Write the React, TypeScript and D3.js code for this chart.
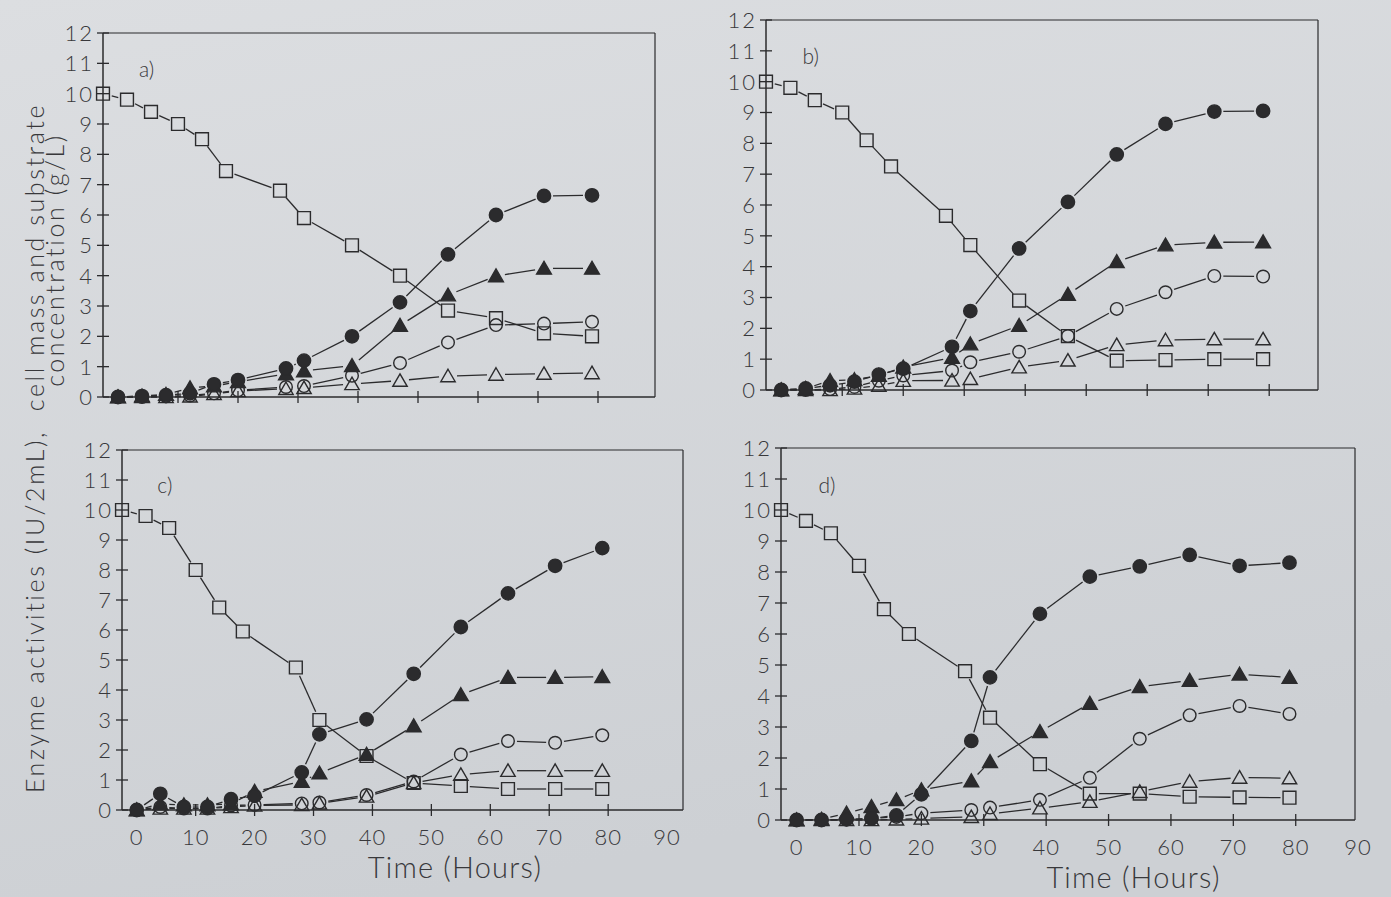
import React from "react";
import * as d3 from "d3";

// sampling times (hours)
const hours = [0, 4, 8, 12, 16, 20, 28, 31, 39, 47, 55, 63, 71, 79];
const substrateHours = [-2.5, 1.5, 5.5, 10, 14, 18, 27, 31, 39, 47, 55, 63, 71, 79];

const yTicks = d3.range(0, 13);
const xTickMarks = d3.range(0, 90, 10);
const xTickLabels = d3.range(0, 100, 10);

// panel a
const aSubstrate = [10, 9.8, 9.4, 9.0, 8.5, 7.45, 6.8, 5.9, 5.0, 4.0, 2.85, 2.6, 2.1, 2.0];
const aFilledCircle = [0, 0.03, 0.06, 0.12, 0.42, 0.56, 0.94, 1.2, 2.0, 3.12, 4.7, 6.0, 6.63, 6.65];
const aFilledTriangle = [0, 0.03, 0.08, 0.3, 0.36, 0.5, 0.76, 0.86, 1.03, 2.36, 3.36, 3.99, 4.24, 4.24];
const aOpenCircle = [0, 0, 0.02, 0.05, 0.12, 0.22, 0.33, 0.36, 0.7, 1.12, 1.8, 2.37, 2.42, 2.48];
const aOpenTriangle = [0, 0, 0, 0.02, 0.1, 0.2, 0.27, 0.3, 0.43, 0.54, 0.69, 0.74, 0.77, 0.79];

// panel b
const bSubstrate = [10, 9.8, 9.4, 9.0, 8.1, 7.25, 5.65, 4.7, 2.9, 1.75, 0.95, 0.97, 1.0, 1.0];
const bFilledCircle = [0, 0.05, 0.15, 0.27, 0.5, 0.69, 1.4, 2.56, 4.59, 6.1, 7.64, 8.63, 9.03, 9.05];
const bFilledTriangle = [0, 0.05, 0.3, 0.33, 0.47, 0.74, 1.05, 1.49, 2.09, 3.1, 4.16, 4.7, 4.79, 4.8];
const bOpenCircle = [0, 0, 0.03, 0.1, 0.3, 0.47, 0.63, 0.9, 1.24, 1.75, 2.63, 3.17, 3.7, 3.68];
const bOpenTriangle = [0, 0, 0, 0.05, 0.14, 0.3, 0.31, 0.36, 0.74, 0.96, 1.46, 1.62, 1.65, 1.65];

// panel c
const cSubstrate = [10, 9.8, 9.4, 8.0, 6.75, 5.95, 4.75, 3.0, 1.8, 0.9, 0.8, 0.7, 0.7, 0.7];
const cFilledCircle = [0, 0.54, 0.1, 0.1, 0.36, 0.47, 1.25, 2.52, 3.02, 4.54, 6.1, 7.22, 8.14, 8.73];
const cFilledTriangle = [0, 0.2, 0.17, 0.17, 0.2, 0.62, 0.95, 1.23, 1.85, 2.8, 3.84, 4.42, 4.42, 4.44];
const cOpenCircle = [0, 0.1, 0.05, 0.05, 0.15, 0.17, 0.22, 0.25, 0.5, 0.95, 1.85, 2.3, 2.24, 2.49];
const cOpenTriangle = [0, 0.05, 0.05, 0.05, 0.1, 0.15, 0.17, 0.22, 0.45, 0.9, 1.18, 1.31, 1.31, 1.31];

// panel d
const dSubstrate = [10, 9.65, 9.25, 8.2, 6.8, 6.0, 4.8, 3.3, 1.8, 0.85, 0.85, 0.75, 0.73, 0.72];
const dFilledCircle = [0, 0, 0.02, 0.05, 0.15, 0.83, 2.55, 4.6, 6.65, 7.85, 8.18, 8.55, 8.2, 8.3];
const dFilledTriangle = [0, 0.02, 0.22, 0.43, 0.65, 0.97, 1.26, 1.88, 2.85, 3.76, 4.3, 4.5, 4.7, 4.6];
const dOpenCircle = [0, 0, 0.02, 0.05, 0.1, 0.22, 0.32, 0.4, 0.65, 1.36, 2.62, 3.38, 3.68, 3.42];
const dOpenTriangle = [0, 0, 0, 0, 0.02, 0.05, 0.1, 0.2, 0.38, 0.59, 0.91, 1.24, 1.37, 1.35];

const INK = "#2b2b2d";
const TEXT = "#38383b";
const FONT = "Lato, 'Open Sans', 'DejaVu Sans', sans-serif";

type Kind = "square" | "filledCircle" | "filledTriangle" | "openCircle" | "openTriangle";

const symbolFor: Record<Kind, d3.SymbolType> = {
  square: d3.symbolSquare,
  filledCircle: d3.symbolCircle,
  filledTriangle: d3.symbolTriangle,
  openCircle: d3.symbolCircle,
  openTriangle: d3.symbolTriangle,
};
const sizeFor: Record<Kind, number> = {
  square: 165,
  filledCircle: 140,
  filledTriangle: 95,
  openCircle: 125,
  openTriangle: 90,
};

const panels = [
  { label: "a)", left: 103, right: 655, top: 33, bottom: 397, xMax: 89.5, xLabels: false,
    substrate: aSubstrate, fc: aFilledCircle, ft: aFilledTriangle, oc: aOpenCircle, ot: aOpenTriangle },
  { label: "b)", left: 766, right: 1318, top: 20, bottom: 390, xMax: 88, xLabels: false,
    substrate: bSubstrate, fc: bFilledCircle, ft: bFilledTriangle, oc: bOpenCircle, ot: bOpenTriangle },
  { label: "c)", left: 122, right: 683, top: 450, bottom: 810, xMax: 92.7, xLabels: true,
    substrate: cSubstrate, fc: cFilledCircle, ft: cFilledTriangle, oc: cOpenCircle, ot: cOpenTriangle },
  { label: "d)", left: 781, right: 1355, top: 448, bottom: 820, xMax: 89.5, xLabels: true,
    substrate: dSubstrate, fc: dFilledCircle, ft: dFilledTriangle, oc: dOpenCircle, ot: dOpenTriangle },
];

// line pieces between markers, cut back so they stop short of each symbol
function trimmedSegments(pts: [number, number][], gap: number) {
  const out: number[][] = [];
  for (let i = 1; i < pts.length; i++) {
    const [x0, y0] = pts[i - 1];
    const [x1, y1] = pts[i];
    const len = Math.hypot(x1 - x0, y1 - y0);
    if (len <= gap * 2 + 1) continue;
    const ux = (x1 - x0) / len, uy = (y1 - y0) / len;
    out.push([x0 + ux * gap, y0 + uy * gap, x1 - ux * gap, y1 - uy * gap]);
  }
  return out;
}

function Series({ xs, ys, kind, x, y }: any) {
  const pts: [number, number][] = ys.map((v: number, i: number) => [x(xs[i]), y(v)]);
  const path = d3.symbol().type(symbolFor[kind as Kind]).size(sizeFor[kind as Kind])()!;
  const filled = kind === "filledCircle" || kind === "filledTriangle";
  return (
    <g>
      {trimmedSegments(pts, 9).map((s, i) => (
        <line key={i} x1={s[0]} y1={s[1]} x2={s[2]} y2={s[3]} stroke={INK} strokeWidth={1.3} />
      ))}
      {pts.map(([px, py], i) => (
        <path key={"m" + i} d={path} transform={`translate(${px},${py + (kind.includes("Triangle") ? 1.5 : 0)})`}
          fill={filled ? INK : "none"} stroke={INK} strokeWidth={1.4} />
      ))}
    </g>
  );
}

function Panel({ p }: any) {
  const x = d3.scaleLinear().domain([-2.5, p.xMax]).range([p.left, p.right]);
  const y = d3.scaleLinear().domain([0, 12]).range([p.bottom, p.top]);
  return (
    <g>
      {/* frame */}
      <line x1={p.left} y1={p.bottom} x2={p.left} y2={p.top} stroke={INK} strokeWidth={1.5} />
      <line x1={p.left} y1={p.top} x2={p.right} y2={p.top} stroke={INK} strokeWidth={1.2} />
      <line x1={p.right} y1={p.top} x2={p.right} y2={p.bottom} stroke={INK} strokeWidth={1.2} />
      <line x1={p.left} y1={p.bottom} x2={p.right} y2={p.bottom} stroke={INK} strokeWidth={1.5} />
      {yTicks.map((t) => (
        <g key={"y" + t}>
          <line x1={p.left - 6} x2={p.left + 6} y1={y(t)} y2={y(t)} stroke={INK} strokeWidth={1.3} />
          <text x={p.left - 9} y={y(t)} dy="0.36em" textAnchor="end" fontSize={22}
            fontFamily={FONT} fontWeight={300} letterSpacing={2} fill={TEXT}>{t}</text>
        </g>
      ))}
      {xTickMarks.map((t) => (
        <line key={"x" + t} x1={x(t)} x2={x(t)} y1={p.bottom - 6} y2={p.bottom + 6} stroke={INK} strokeWidth={1.3} />
      ))}
      {p.xLabels && xTickLabels.map((t) => (
        <text key={"xl" + t} x={x(t)} y={p.bottom + 35} textAnchor="middle" fontSize={22}
          fontFamily={FONT} fontWeight={300} letterSpacing={1} fill={TEXT}>{t}</text>
      ))}
      {p.xLabels && (
        <text x={x(54)} y={p.bottom + 68} textAnchor="middle" fontSize={29}
          fontFamily={FONT} fontWeight={300} letterSpacing={1.2} fill={TEXT}>Time (Hours)</text>
      )}
      <text x={x(3.5)} y={y(10.8)} dy="0.35em" textAnchor="start" fontSize={21} fontFamily={FONT}
        fontWeight={300} fill={TEXT}>{p.label}</text>

      <Series xs={substrateHours} ys={p.substrate} kind="square" x={x} y={y} />
      <Series xs={hours} ys={p.ot} kind="openTriangle" x={x} y={y} />
      <Series xs={hours} ys={p.oc} kind="openCircle" x={x} y={y} />
      <Series xs={hours} ys={p.ft} kind="filledTriangle" x={x} y={y} />
      <Series xs={hours} ys={p.fc} kind="filledCircle" x={x} y={y} />
    </g>
  );
}

export default function App() {
  return (
    <svg width={1391} height={897} style={{ position: "absolute", left: 0, top: 0 }}>
      <defs>
        <linearGradient id="paper" x1="0" y1="0" x2="0.3" y2="1">
          <stop offset="0" stopColor="#dcdee1" />
          <stop offset="1" stopColor="#cdd0d4" />
        </linearGradient>
      </defs>
      <rect width={1391} height={897} fill="url(#paper)" />
      {panels.map((p) => <Panel key={p.label} p={p} />)}
      <text transform="translate(44,448) rotate(-90)" textAnchor="middle" fontSize={25}
        fontFamily={FONT} fontWeight={300} letterSpacing={2.6} fill={TEXT}>
        Enzyme activities (IU/2mL),{"\u00a0\u00a0"}cell mass and substrate
      </text>
      <text transform="translate(64,260) rotate(-90)" textAnchor="middle" fontSize={25}
        fontFamily={FONT} fontWeight={300} letterSpacing={2.6} fill={TEXT}>
        concentration (g/L)
      </text>
    </svg>
  );
}
